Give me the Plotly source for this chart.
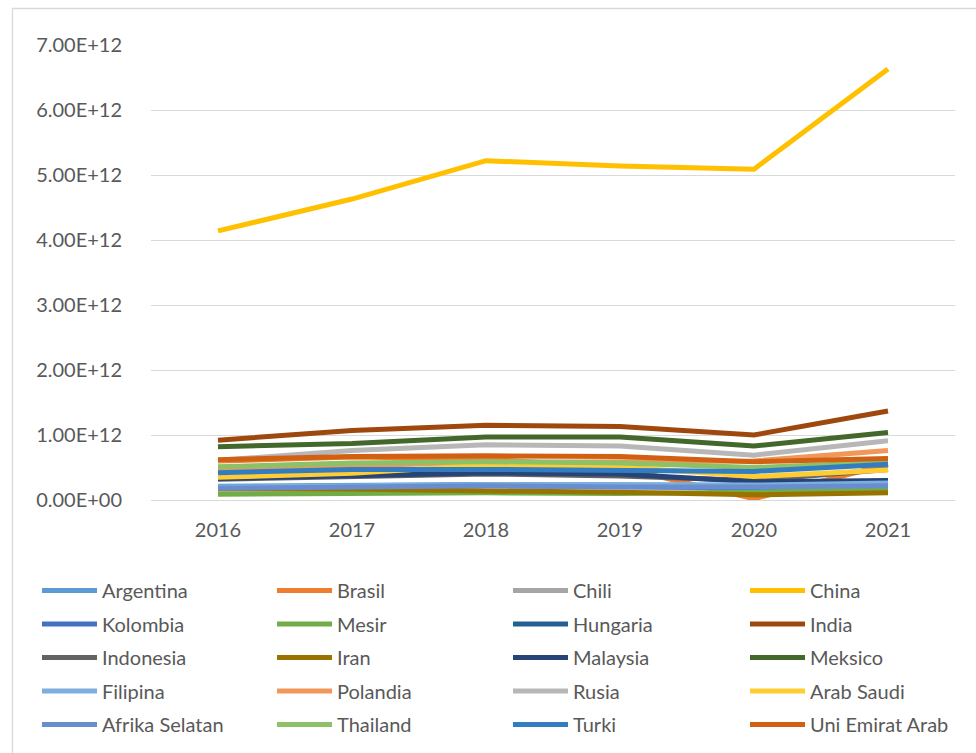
import plotly.graph_objects as go

years = ["2016", "2017", "2018", "2019", "2020", "2021"]

countries = ["Argentina", "Brasil", "Chili", "China", "Kolombia", "Mesir", "Hungaria", "India",
             "Indonesia", "Iran", "Malaysia", "Meksico", "Filipina", "Polandia", "Rusia",
             "Arab Saudi", "Afrika Selatan", "Thailand", "Turki", "Uni Emirat Arab"]

# values in units of 1e12
argentina = [0.21, 0.23, 0.24, 0.22, 0.20, 0.26]
brasil = [0.60, 0.66, 0.63, 0.50, 0.02, 0.55]
chili = [0.19, 0.21, 0.22, 0.20, 0.19, 0.24]
china = [4.14, 4.63, 5.22, 5.14, 5.09, 6.63]
kolombia = [0.18, 0.20, 0.22, 0.21, 0.18, 0.26]
mesir = [0.09, 0.10, 0.11, 0.10, 0.12, 0.16]
hungaria = [0.19, 0.21, 0.23, 0.22, 0.22, 0.29]
india = [0.92, 1.07, 1.15, 1.13, 1.00, 1.37]
indonesia = [0.32, 0.36, 0.40, 0.37, 0.30, 0.47]
iran = [0.17, 0.17, 0.14, 0.12, 0.08, 0.11]
malaysia = [0.33, 0.37, 0.42, 0.40, 0.28, 0.30]
meksico = [0.82, 0.87, 0.97, 0.97, 0.83, 1.04]
filipina = [0.20, 0.22, 0.24, 0.24, 0.23, 0.26]
polandia = [0.47, 0.52, 0.58, 0.59, 0.60, 0.76]
rusia = [0.61, 0.76, 0.85, 0.83, 0.69, 0.91]
arab_saudi = [0.35, 0.41, 0.54, 0.51, 0.36, 0.46]
afrika_selatan = [0.18, 0.20, 0.22, 0.20, 0.20, 0.22]
thailand = [0.51, 0.57, 0.59, 0.57, 0.50, 0.58]
turki = [0.42, 0.47, 0.47, 0.45, 0.44, 0.55]
uea = [0.62, 0.67, 0.68, 0.67, 0.59, 0.64]

series = [argentina, brasil, chili, china, kolombia, mesir, hungaria, india, indonesia, iran,
          malaysia, meksico, filipina, polandia, rusia, arab_saudi, afrika_selatan, thailand,
          turki, uea]

colors = ["#5B9BD5", "#ED7D31", "#A5A5A5", "#FFC000", "#4472C4", "#70AD47", "#255E91",
          "#9E480E", "#636363", "#997300", "#264478", "#43682B", "#7CAFDD", "#F1975A",
          "#B7B7B7", "#FFCD33", "#698ED0", "#8CC168", "#327DC2", "#D26012"]

ytickvals = [0, 1e12, 2e12, 3e12, 4e12, 5e12, 6e12, 7e12]
yticktext = ["0.00E+00", "1.00E+12", "2.00E+12", "3.00E+12", "4.00E+12", "5.00E+12",
             "6.00E+12", "7.00E+12"]

W, H = 976, 753
L, R, T, B = 151, 21, 45, 253
pw, ph = W - L - R, H - T - B
FS = 20


def px_x(p):
    return (p - L) / pw


def px_y(p):
    return (H - B - p) / ph


n_cols = 4
legend_names = ["legend", "legend2", "legend3", "legend4"]

fig = go.Figure()
for i, (name, vals, col) in enumerate(zip(countries, series, colors)):
    fig.add_trace(go.Scatter(
        x=years, y=[v * 1e12 for v in vals], name=name, mode="lines",
        line=dict(color=col, width=5, shape="linear"),
        legend=legend_names[i % n_cols], legendgroup=name,
    ))

col_starts = [37, 272, 508, 745]
legend_layouts = {}
for k, ln in enumerate(legend_names):
    legend_layouts[ln] = dict(
        orientation="v", x=px_x(col_starts[k]), y=px_y(571), xanchor="left", yanchor="top",
        traceorder="grouped", tracegroupgap=4.5,
        font=dict(size=FS, color="#595959"), itemwidth=55,
        bgcolor="rgba(0,0,0,0)", borderwidth=0,
    )

fig.update_layout(
    width=W, height=H,
    margin=dict(l=L, r=R, t=T, b=B, pad=0, autoexpand=False),
    paper_bgcolor="white", plot_bgcolor="white",
    font=dict(family="Lato, 'Open Sans', sans-serif", color="#595959", size=FS),
    showlegend=True,
    xaxis=dict(
        type="category", range=[-0.5, 5.5], showgrid=False, zeroline=False,
        showline=False, ticks="", ticklabelstandoff=16,
        tickfont=dict(size=FS, color="#595959"),
    ),
    yaxis=dict(
        range=[0, 7e12], tickvals=ytickvals, ticktext=yticktext,
        showgrid=True, gridcolor="#D9D9D9", gridwidth=1.3,
        zeroline=True, zerolinecolor="#D9D9D9", zerolinewidth=1.3,
        showline=False, ticks="", ticklabelstandoff=28,
        tickfont=dict(size=FS, color="#595959"),
    ),
    shapes=[dict(
        type="rect", xref="paper", yref="paper",
        x0=px_x(12.5), x1=px_x(990), y0=px_y(770), y1=px_y(8.5),
        line=dict(color="#D9D9D9", width=1.3), fillcolor="rgba(0,0,0,0)", layer="below",
    )],
    **legend_layouts,
)

fig.write_html("out.html")
